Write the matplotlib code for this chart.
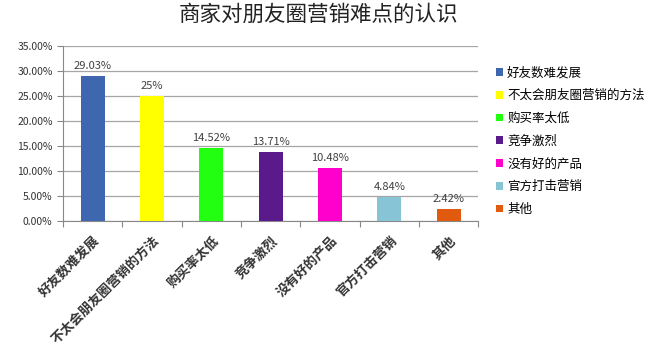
import matplotlib.pyplot as plt
from matplotlib.ticker import FuncFormatter, MultipleLocator

plt.rcParams['font.family'] = ['Noto Sans CJK SC', 'DejaVu Sans']

categories = ["好友数难发展", "不太会朋友圈营销的方法", "购买率太低", "竞争激烈",
              "没有好的产品", "官方打击营销", "其他"]
values = [29.03, 25, 14.52, 13.71, 10.48, 4.84, 2.42]
labels = ["29.03%", "25%", "14.52%", "13.71%", "10.48%", "4.84%", "2.42%"]
colors = ["#3F67AF", "#FFFF00", "#22FF11", "#5B1A8B", "#FF00CC", "#86C4D6", "#E05A10"]

fig = plt.figure(figsize=(6.53, 3.51), dpi=100)
ax = fig.add_axes([0.0965, 0.371, 0.636, 0.499])

x = range(len(categories))
bars = ax.bar(x, values, width=0.4, color=colors, label=categories, zorder=3)

for i, b in enumerate(bars):
    ax.text(b.get_x() + b.get_width() / 2, values[i] + 1.0, labels[i],
            ha="center", va="bottom", fontsize=8, color="#404040")

ax.set_ylim(0, 35)
ax.set_xlim(-0.5, len(categories) - 0.5)
ax.yaxis.set_major_locator(MultipleLocator(5))
ax.yaxis.set_major_formatter(FuncFormatter(lambda v, p: f"{v:.2f}%"))
ax.grid(axis="y", color="#A6A6A6", linewidth=0.9, zorder=0)

ax.set_xticks([i - 0.5 for i in range(len(categories) + 1)], minor=False)
ax.set_xticklabels([])
ax.set_xticks(list(x), minor=True)
ax.set_xticklabels(categories, minor=True, rotation=45, ha="right",
                   rotation_mode="anchor", fontsize=9.5, fontweight="bold", color="#333333")
ax.tick_params(axis="x", which="minor", length=0, pad=9)
ax.tick_params(axis="x", which="major", length=4, color="#888888")
ax.tick_params(axis="y", length=4, color="#888888", labelsize=7.5, labelcolor="#333333")

for s in ["top", "right"]:
    ax.spines[s].set_visible(False)
for s in ["left", "bottom"]:
    ax.spines[s].set_color("#888888")

fig.suptitle("商家对朋友圈营销难点的认识", x=0.487, y=0.99, fontsize=15.5,
             color="#222222")

leg = ax.legend(loc="upper left", bbox_to_anchor=(1.03, 0.91), frameon=False,
                fontsize=9, handlelength=0.6, handleheight=0.6, handletextpad=0.3,
                labelspacing=0.78, borderaxespad=0)

fig.savefig("out.png", dpi=100)
